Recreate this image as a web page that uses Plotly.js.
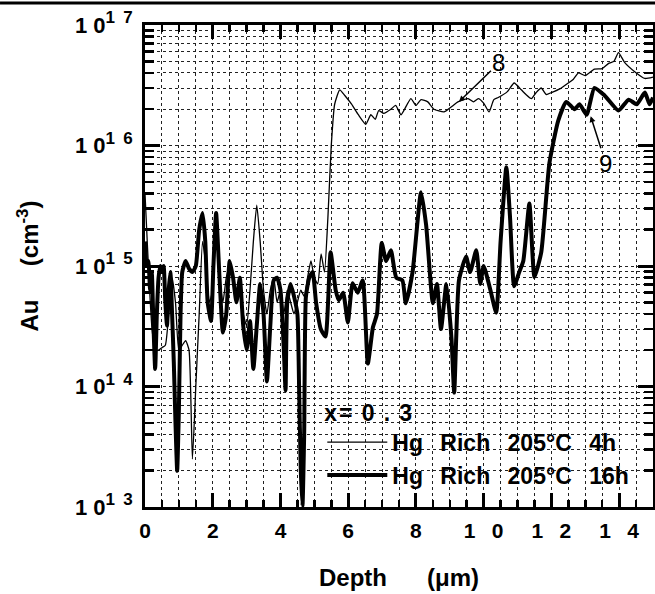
<!DOCTYPE html>
<html>
<head>
<meta charset="utf-8">
<script src="https://cdn.plot.ly/plotly-3.0.1.min.js"></script>
<style>html,body{margin:0;padding:0;background:#fff;}#chart{width:655px;height:594px;}</style>
</head>
<body>
<div id="chart"></div>
<script>
// Series 8: Hg Rich 205°C 4h (thin line)
var depth4h = [0,0.05,0.1,0.2,0.3,0.4,0.5,0.6,0.7,0.8,0.9,1.0,1.1,1.2,1.3,1.4,1.5,1.6,1.7,1.8,1.9,2.0,2.1,2.2,2.3,2.4,2.5,2.6,2.7,2.8,2.9,3.0,3.1,3.2,3.3,3.4,3.5,3.6,3.7,3.8,3.9,4.0,4.1,4.2,4.3,4.4,4.5,4.6,4.7,4.8,4.9,5.0,5.1,5.2,5.3,5.4,5.5,5.6,5.75,5.9,6.1,6.3,6.52,6.67,6.8,6.9,7.05,7.26,7.4,7.56,7.85,8.0,8.15,8.35,8.53,8.83,9.0,9.1,9.24,9.54,9.7,9.84,10.0,10.16,10.3,10.43,10.7,10.9,11.11,11.25,11.41,11.55,11.7,11.85,12.0,12.25,12.5,12.65,12.8,13.0,13.27,13.5,13.69,13.85,13.98,14.16,14.46,14.76,15.0];
var au4h = [4.0e15,2.0e15,1.0e15,3.2e14,2.0e14,2.0e14,2.1e14,2.2e14,4.0e14,8.0e14,5.0e14,2.0e14,2.2e14,2.4e14,2.0e14,2.5e13,1.0e14,4.0e14,1.6e15,1.0e15,5.0e14,6.3e14,2.5e15,8.0e14,5.0e14,8.0e14,1.0e15,8.0e14,5.0e14,6.3e14,4.0e14,3.2e14,6.3e14,1.6e15,3.2e15,1.6e15,6.3e14,4.0e14,6.3e14,8.0e14,5.0e14,6.3e14,4.0e14,6.3e14,5.0e14,4.0e14,5.0e14,6.3e14,5.6e14,8.0e14,1.1e15,8.0e14,7.1e14,1.26e15,8.9e14,2.5e15,1.0e16,2.2e16,2.9e16,2.6e16,2.2e16,1.8e16,1.5e16,1.8e16,1.65e16,1.95e16,1.85e16,2.0e16,2.15e16,1.8e16,2.45e16,2.15e16,2.4e16,2.3e16,2.0e16,1.9e16,2.05e16,2.15e16,2.3e16,2.45e16,2.3e16,2.45e16,2.25e16,1.9e16,2.4e16,2.5e16,2.8e16,3.3e16,2.9e16,2.65e16,2.45e16,2.75e16,3.0e16,2.65e16,2.75e16,2.95e16,3.3e16,3.55e16,4.0e16,3.8e16,4.3e16,4.35e16,4.8e16,5.0e16,5.9e16,4.9e16,4.1e16,3.6e16,3.7e16];

// Series 9: Hg Rich 205°C 16h (thick line)
var depth16h = [0,0.05,0.1,0.15,0.2,0.25,0.3,0.35,0.4,0.45,0.5,0.55,0.6,0.65,0.7,0.75,0.8,0.85,0.9,0.95,1.0,1.05,1.1,1.2,1.3,1.4,1.5,1.6,1.7,1.78,1.85,1.95,2.02,2.1,2.2,2.3,2.4,2.5,2.6,2.7,2.8,2.9,3.0,3.1,3.2,3.3,3.4,3.5,3.6,3.7,3.8,3.9,4.0,4.1,4.15,4.2,4.3,4.4,4.5,4.55,4.6,4.65,4.7,4.75,4.85,4.95,5.05,5.19,5.33,5.48,5.63,5.72,5.85,5.99,6.13,6.28,6.43,6.58,6.73,6.85,6.99,7.12,7.26,7.42,7.6,7.7,7.9,8.15,8.3,8.5,8.62,8.74,8.9,9.05,9.13,9.27,9.48,9.6,9.78,9.9,10.0,10.2,10.37,10.5,10.67,10.78,10.9,11.05,11.17,11.35,11.5,11.7,11.94,12.2,12.44,12.68,12.83,13.04,13.27,13.57,13.98,14.28,14.52,14.76,14.9,15.0];
var au16h = [1.6e15,1.0e15,1.1e15,6.3e14,8.9e14,3.2e14,1.4e14,4.0e14,8.0e14,1.0e15,8.9e14,1.0e15,5.0e14,3.2e14,6.3e14,8.9e14,4.0e14,1.6e14,5.0e13,2.0e13,6.3e13,4.0e14,8.9e14,1.1e15,9.5e14,8.9e14,1.0e15,2.0e15,2.75e15,1.6e15,5.0e14,3.5e14,1.0e15,2.75e15,8.0e14,2.8e14,4.0e14,1.1e15,8.0e14,5.0e14,8.0e14,3.2e14,2.0e14,3.5e14,1.4e14,3.2e14,7.1e14,4.0e14,1.1e14,3.2e14,7.6e14,8.0e14,6.3e14,2.0e14,9.3e13,5.0e14,7.1e14,5.6e14,4.0e14,1.0e14,2.0e13,1.02e13,4.0e13,5.5e14,8.0e14,8.9e14,5.0e14,3.0e14,2.6e14,1.3e15,6.3e14,5.2e14,6.0e14,3.4e14,7.2e14,6.0e14,7.6e14,1.55e14,3.1e14,4.0e14,1.55e15,1.1e15,1.35e15,8.0e14,7.6e14,4.9e14,8.9e14,4.1e15,2.2e15,4.9e14,7.1e14,3.0e14,7.1e14,2.5e14,8.9e13,7.6e14,1.2e15,8.9e14,1.35e15,7.1e14,1.0e15,6.3e14,4.1e14,1.6e15,6.6e15,2.5e15,6.8e14,8.9e14,1.1e15,3.3e15,8.1e14,1.3e15,7.1e15,1.6e16,2.3e16,2.0e16,2.2e16,1.8e16,3.0e16,2.6e16,1.95e16,2.4e16,2.2e16,2.75e16,2.2e16,2.5e16];

var xTickVals = [0,2,4,6,8,10,12,14];
var xTickText = ['0','2','4','6','8','1\u2002\u00A00','1\u2002\u00A02','1\u2002\u00A04'];
var yTickVals = [1e13,1e14,1e15,1e16,1e17];
var yExp = ['1\u00A0\u20093','1\u00A0\u20094','1\u00A0\u20095','1\u00A0\u20096','1\u00A0\u20097'];
var yTickText = yExp.map(function(e){return '1\u00A00<sup><span style="font-size:17px">' + e + '</span></sup>';});

var SP = '\u00A0\u00A0\u2009';
var legendTitle = 'x\u200A=\u2009\u20090\u2009\u2009.\u2009\u20093';
var name4h = 'Hg' + SP + 'Rich' + SP + '205°C' + SP + '4h';
var name16h = 'Hg' + SP + 'Rich' + SP + '205°C' + SP + '16h';

var minorY = [];
for (var d = 13; d < 17; d++) { for (var m = 2; m <= 9; m++) { minorY.push(m * Math.pow(10, d)); } }

var FONT = 'Liberation Sans, Arial, Helvetica, sans-serif';

var traces = [
  {x: depth4h, y: au4h, name: name4h, mode: 'lines', line: {color: '#000', width: 1.3, shape: 'spline', smoothing: 0.5}},
  {x: depth16h, y: au16h, name: name16h, mode: 'lines', line: {color: '#000', width: 4, shape: 'spline', smoothing: 0.5}}
];

var layout = {
  width: 655, height: 594,
  margin: {l: 145, r: 2, t: 25, b: 87},
  paper_bgcolor: '#fff', plot_bgcolor: '#fff',
  font: {family: FONT, color: '#000'},
  showlegend: true,
  legend: {
    x: 0.349, xanchor: 'left', y: 0.241, yanchor: 'top',
    bgcolor: 'rgba(0,0,0,0)', borderwidth: 0,
    font: {family: FONT, size: 23, weight: 'bold', color: '#000'},
    title: {text: legendTitle, font: {family: FONT, size: 23, weight: 'bold'}},
    itemwidth: 60, tracegroupgap: 0
  },
  xaxis: {
    range: [0, 15], tickmode: 'array', tickvals: xTickVals, ticktext: xTickText,
    ticks: 'inside', ticklen: 14, tickwidth: 3, tickcolor: '#000',
    showline: true, linewidth: 3, linecolor: '#000', mirror: 'ticks',
    showgrid: true, gridcolor: '#222', gridwidth: 1, griddash: 'dot',
    zeroline: false,
    tickfont: {family: FONT, size: 21, weight: 'bold'},
    ticklabelstandoff: 3,
    minor: {dtick: 0.5, ticks: 'inside', ticklen: 7, tickwidth: 2.5, tickcolor: '#000', showgrid: true, gridcolor: '#222', gridwidth: 1, griddash: 'dot'},
    title: {text: 'Depth\u00A0\u00A0\u00A0\u00A0\u00A0\u00A0(\u03bcm)', font: {family: FONT, size: 24, weight: 'bold'}, standoff: 28}
  },
  yaxis: {
    type: 'log', range: [13, 17], tickmode: 'array', tickvals: yTickVals, ticktext: yTickText,
    ticks: 'inside', ticklen: 15, tickwidth: 3, tickcolor: '#000',
    showline: true, linewidth: 3, linecolor: '#000', mirror: 'ticks',
    showgrid: true, gridcolor: '#222', gridwidth: 1, griddash: 'dot',
    zeroline: false,
    tickfont: {family: FONT, size: 22, weight: 'bold'},
    ticklabelstandoff: 5,
    minor: {tickmode: 'array', tickvals: minorY, ticks: 'inside', ticklen: 9, tickwidth: 2.5, tickcolor: '#000', showgrid: true, gridcolor: '#222', gridwidth: 1, griddash: 'dot'},
    title: {text: 'Au\u00A0\u00A0\u00A0\u00A0\u00A0(cm<sup>-3</sup>)', font: {family: FONT, size: 24, weight: 'bold'}, standoff: 30}
  },
  annotations: [
    {x: 9.27, y: Math.log10(2.3e16), xref: 'x', yref: 'y', text: '8', showarrow: true, arrowhead: 2, arrowsize: 0.8, arrowwidth: 1.5, arrowcolor: '#000', ax: 40, ay: -39, font: {family: FONT, size: 24, color: '#000'}},
    {x: 13.16, y: Math.log10(1.75e16), xref: 'x', yref: 'y', text: '9', showarrow: true, arrowhead: 2, arrowsize: 0.8, arrowwidth: 1.5, arrowcolor: '#000', ax: 15, ay: 47, font: {family: FONT, size: 24, color: '#000'}}
  ],
  shapes: [
    {type: 'line', xref: 'paper', yref: 'paper', x0: -0.2854, x1: 1.004, y0: 1.0456, y1: 1.0456, line: {color: '#000', width: 3}},
    {type: 'rect', xref: 'paper', yref: 'paper', x0: 0.352, x1: 0.967, y0: 0, y1: 0.224, layer: 'below', fillcolor: '#fff', line: {width: 0}}
  ]
};

Plotly.newPlot('chart', traces, layout, {displayModeBar: false, staticPlot: true});
</script>
</body>
</html>
